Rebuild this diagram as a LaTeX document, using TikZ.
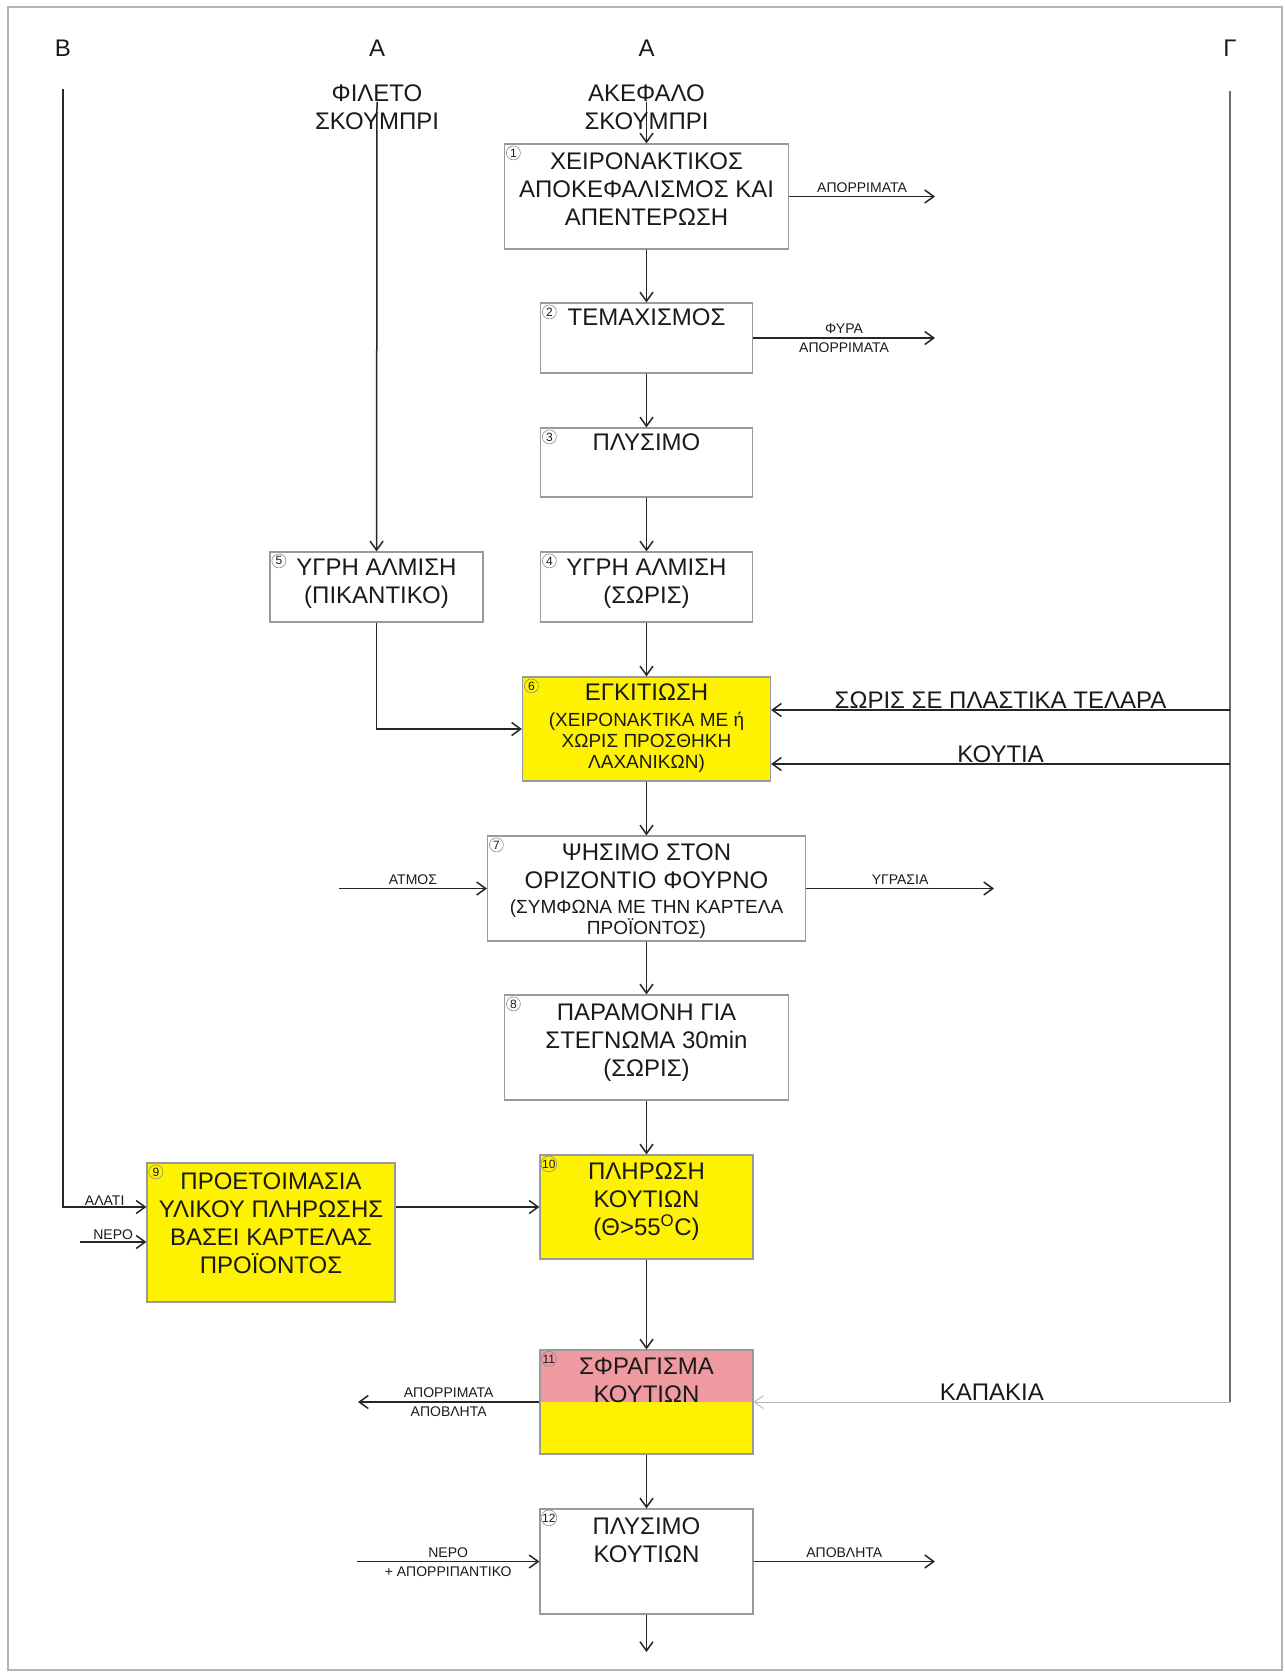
\documentclass[tikz,border=0pt]{standalone}
\usepackage{fontspec}
\setmainfont{Liberation Sans}
\usepackage{tikz}
\usetikzlibrary{arrows.meta,positioning}
\definecolor{boxgray}{HTML}{9A9A9A}
\definecolor{linecol}{HTML}{262626}
\definecolor{sidegray}{HTML}{6A6A6A}
\definecolor{framegray}{HTML}{B4B4B4}
\definecolor{numgray}{HTML}{8C8C8C}
\definecolor{textcol}{HTML}{1A1A1A}
\definecolor{procyellow}{RGB}{255,242,0}
\definecolor{sealpink}{RGB}{238,154,160}

\begin{document}
\begin{tikzpicture}[x=1pt, y=-1pt,
  box/.style={draw=boxgray, line width=1.2pt, inner sep=0pt},
  yellowbox/.style={box, fill=procyellow},
  txt/.style={font=\fontsize{24}{28}\selectfont, align=center, inner sep=0pt, text=textcol},
  subtxt/.style={txt, font=\fontsize{19}{21}\selectfont},
  numc/.style={circle, draw=numgray, line width=0.6pt, inner sep=0pt, minimum size=14pt, font=\fontsize{12}{12}\selectfont, text=textcol},
  arr/.style={draw=linecol, line width=1.5pt, -{Straight Barb[length=9pt, width=13pt]}},
  thinarr/.style={draw=framegray, line width=0.9pt, -{Straight Barb[length=9pt, width=13pt]}},
  side/.style={draw=sidegray, line width=1.7pt},
  lbl/.style={font=\fontsize{14}{14}\selectfont, text=textcol},
  lblabove/.style={lbl, above, inner sep=3.5pt},
  lblbelow/.style={lbl, below, inner sep=4pt},
  big/.style={font=\fontsize{24}{24}\selectfont, text=textcol, above, inner sep=1pt},
]
\useasboundingbox (0,0) rectangle (1284,1677);
\draw[framegray, line width=1.2pt] (8,7) rectangle (1282,1670);

% column heads
\node[txt] (hb) at (63,48) {Β};
\node[txt] (ha1) at (377,48) {Α};
\node[txt] (ha2) at (646.5,48) {Α};
\node[txt] (hg) at (1230,48) {Γ};

% raw materials
\node[txt, anchor=north] (fil) at (377,84.4) {ΦΙΛΕΤΟ\\ΣΚΟΥΜΠΡΙ};
\node[txt, anchor=north] (ake) at (646.5,84.4) {ΑΚΕΦΑΛΟ\\ΣΚΟΥΜΠΡΙ};
\coordinate (fil0) at (377,102);
\coordinate (ake0) at (646.5,102);

% process steps
\node[box, minimum width=284, minimum height=105] (s1) at (646.5,196.5) {};
\node[box, minimum width=212, minimum height=70] (s2) at (646.5,338) {};
\node[box, minimum width=212, minimum height=69] (s3) at (646.5,462.5) {};
\node[box, minimum width=212, minimum height=70] (s4) at (646.5,587) {};
\node[box, minimum width=213, minimum height=70] (s5) at (376.5,587) {};
\node[yellowbox, minimum width=248, minimum height=104] (s6) at (646.5,729) {};
\node[box, minimum width=318, minimum height=105] (s7) at (646.5,888.5) {};
\node[box, minimum width=284, minimum height=105] (s8) at (646.5,1047.5) {};
\node[yellowbox, minimum width=248, minimum height=139] (s9) at (271,1232.5) {};
\node[yellowbox, minimum width=213, minimum height=104] (s10) at (646.5,1207) {};
\node[yellowbox, minimum width=213, minimum height=104,
  path picture={\fill[sealpink] (path picture bounding box.north west) rectangle (path picture bounding box.east);}] (s11) at (646.5,1402) {};
\node[box, minimum width=213, minimum height=105] (s12) at (646.5,1561.5) {};

% texts of the steps
\node[txt, below=9.4pt of s1.north] (t1) {ΧΕΙΡΟΝΑΚΤΙΚΟΣ\\ΑΠΟΚΕΦΑΛΙΣΜΟΣ ΚΑΙ\\ΑΠΕΝΤΕΡΩΣΗ};
\node[txt, below=6.4pt of s2.north] (t2) {ΤΕΜΑΧΙΣΜΟΣ};
\node[txt, below=6.4pt of s3.north] (t3) {ΠΛΥΣΙΜΟ};
\node[txt, below=7.4pt of s4.north] (t4) {ΥΓΡΗ ΑΛΜΙΣΗ\\(ΣΩΡΙΣ)};
\node[txt, below=7.4pt of s5.north] (t5) {ΥΓΡΗ ΑΛΜΙΣΗ\\(ΠΙΚΑΝΤΙΚΟ)};
\node[txt, below=7.4pt of s6.north] (t6) {ΕΓΚΙΤΙΩΣΗ};
\node[subtxt, below=11pt of t6] (t6b) {(ΧΕΙΡΟΝΑΚΤΙΚΑ ΜΕ ή\\ΧΩΡΙΣ ΠΡΟΣΘΗΚΗ\\ΛΑΧΑΝΙΚΩΝ)};
\node[txt, below=8.4pt of s7.north] (t7) {ΨΗΣΙΜΟ ΣΤΟΝ\\ΟΡΙΖΟΝΤΙΟ ΦΟΥΡΝΟ};
\node[subtxt, below=10.6pt of t7] (t7b) {(ΣΥΜΦΩΝΑ ΜΕ ΤΗΝ ΚΑΡΤΕΛΑ\\ΠΡΟΪΟΝΤΟΣ)};
\node[txt, below=9.4pt of s8.north] (t8) {ΠΑΡΑΜΟΝΗ ΓΙΑ\\ΣΤΕΓΝΩΜΑ 30min\\(ΣΩΡΙΣ)};
\node[txt, below=10.4pt of s9.north] (t9) {ΠΡΟΕΤΟΙΜΑΣΙΑ\\ΥΛΙΚΟΥ ΠΛΗΡΩΣΗΣ\\ΒΑΣΕΙ ΚΑΡΤΕΛΑΣ\\ΠΡΟΪΟΝΤΟΣ};
\node[txt, below=8.4pt of s10.north] (t10) {ΠΛΗΡΩΣΗ\\ΚΟΥΤΙΩΝ\\(Θ>55\textsuperscript{O}C)};
\node[txt, below=8.4pt of s11.north] (t11) {ΣΦΡΑΓΙΣΜΑ\\ΚΟΥΤΙΩΝ};
\node[txt, below=9.4pt of s12.north] (t12) {ΠΛΥΣΙΜΟ\\ΚΟΥΤΙΩΝ};

% step numbers
\node[numc] (n1) at ([xshift=9.5pt, yshift=-9.5pt]s1.north west) {1};
\node[numc] (n2) at ([xshift=9.5pt, yshift=-9.5pt]s2.north west) {2};
\node[numc] (n3) at ([xshift=9.5pt, yshift=-9.5pt]s3.north west) {3};
\node[numc] (n4) at ([xshift=9.5pt, yshift=-9.5pt]s4.north west) {4};
\node[numc] (n5) at ([xshift=9.5pt, yshift=-9.5pt]s5.north west) {5};
\node[numc] (n6) at ([xshift=9.5pt, yshift=-9.5pt]s6.north west) {6};
\node[numc] (n7) at ([xshift=9.5pt, yshift=-9.5pt]s7.north west) {7};
\node[numc] (n8) at ([xshift=9.5pt, yshift=-9.5pt]s8.north west) {8};
\node[numc] (n9) at ([xshift=9.5pt, yshift=-9.5pt]s9.north west) {9};
\node[numc] (n10) at ([xshift=9.5pt, yshift=-9.5pt]s10.north west) {10};
\node[numc] (n11) at ([xshift=9.5pt, yshift=-9.5pt]s11.north west) {11};
\node[numc] (n12) at ([xshift=9.5pt, yshift=-9.5pt]s12.north west) {12};

% main flow
\draw[arr] (ake0) -- (s1);
\draw[arr] (fil0) -- (s5);
\draw[arr] (s1) -- (s2);
\draw[arr] (s2) -- (s3);
\draw[arr] (s3) -- (s4);
\draw[arr] (s4) -- (s6);
\draw[arr] (s5) |- (s6);
\draw[arr] (s6) -- (s7);
\draw[arr] (s7) -- (s8);
\draw[arr] (s8) -- (s10);
\draw[arr] (s9.east |- s10) -- (s10);
\draw[arr] (s10) -- (s11);
\draw[arr] (s11) -- (s12);
\coordinate (out12) at (646.5,1652);
\draw[arr] (s12) -- (out12);

% inputs and outputs
\coordinate (w1) at (935,196.5);
\draw[arr] (s1) -- node[lblabove] {ΑΠΟΡΡΙΜΑΤΑ} (w1);
\coordinate (w2) at (935,338);
\draw[arr] (s2) -- node[lblabove] {ΦΥΡΑ} node[lblbelow] {ΑΠΟΡΡΙΜΑΤΑ} (w2);
\coordinate (in7) at (339,888.5);
\draw[arr] (in7) -- node[lblabove] {ΑΤΜΟΣ} (s7);
\coordinate (w7) at (994,888.5);
\draw[arr] (s7) -- node[lblabove] {ΥΓΡΑΣΙΑ} (w7);
\coordinate (w11) at (358,1402);
\draw[arr] (s11) -- node[lblabove] {ΑΠΟΡΡΙΜΑΤΑ} node[lblbelow] {ΑΠΟΒΛΗΤΑ} (w11);
\coordinate (in12) at (357,1561.5);
\draw[arr] (in12) -- node[lblabove] {ΝΕΡΟ} node[lblbelow] {+ ΑΠΟΡΡΙΠΑΝΤΙΚΟ} (s12);
\coordinate (w12) at (935,1561.5);
\draw[arr] (s12) -- node[lblabove] {ΑΠΟΒΛΗΤΑ} (w12);

% column B
\coordinate (b0) at (63,89);
\coordinate (b1) at (63,1207);
\draw[arr] (b0) -- (b1) -- node[lblabove, inner sep=0.5pt] {ΑΛΑΤΙ} (s9.west |- b1);
\coordinate (nin) at (80,1242);
\draw[arr] (nin) -- node[lblabove, inner sep=1.5pt] {ΝΕΡΟ} (s9.west |- nin);

% column G
\coordinate (g0) at (1230,91);
\coordinate (g1) at (1230,710);
\coordinate (g2) at (1230,764);
\coordinate (g3) at (1230,1402);
\draw[side] (g0) -- (g3);
\draw[arr] (g1) -- node[big] {ΣΩΡΙΣ ΣΕ ΠΛΑΣΤΙΚΑ ΤΕΛΑΡΑ} (s6.east |- g1);
\draw[arr] (g2) -- node[big] {ΚΟΥΤΙΑ} (s6.east |- g2);
\draw[thinarr] (g3) -- node[big] {ΚΑΠΑΚΙΑ} (s11);
\end{tikzpicture}
\end{document}
